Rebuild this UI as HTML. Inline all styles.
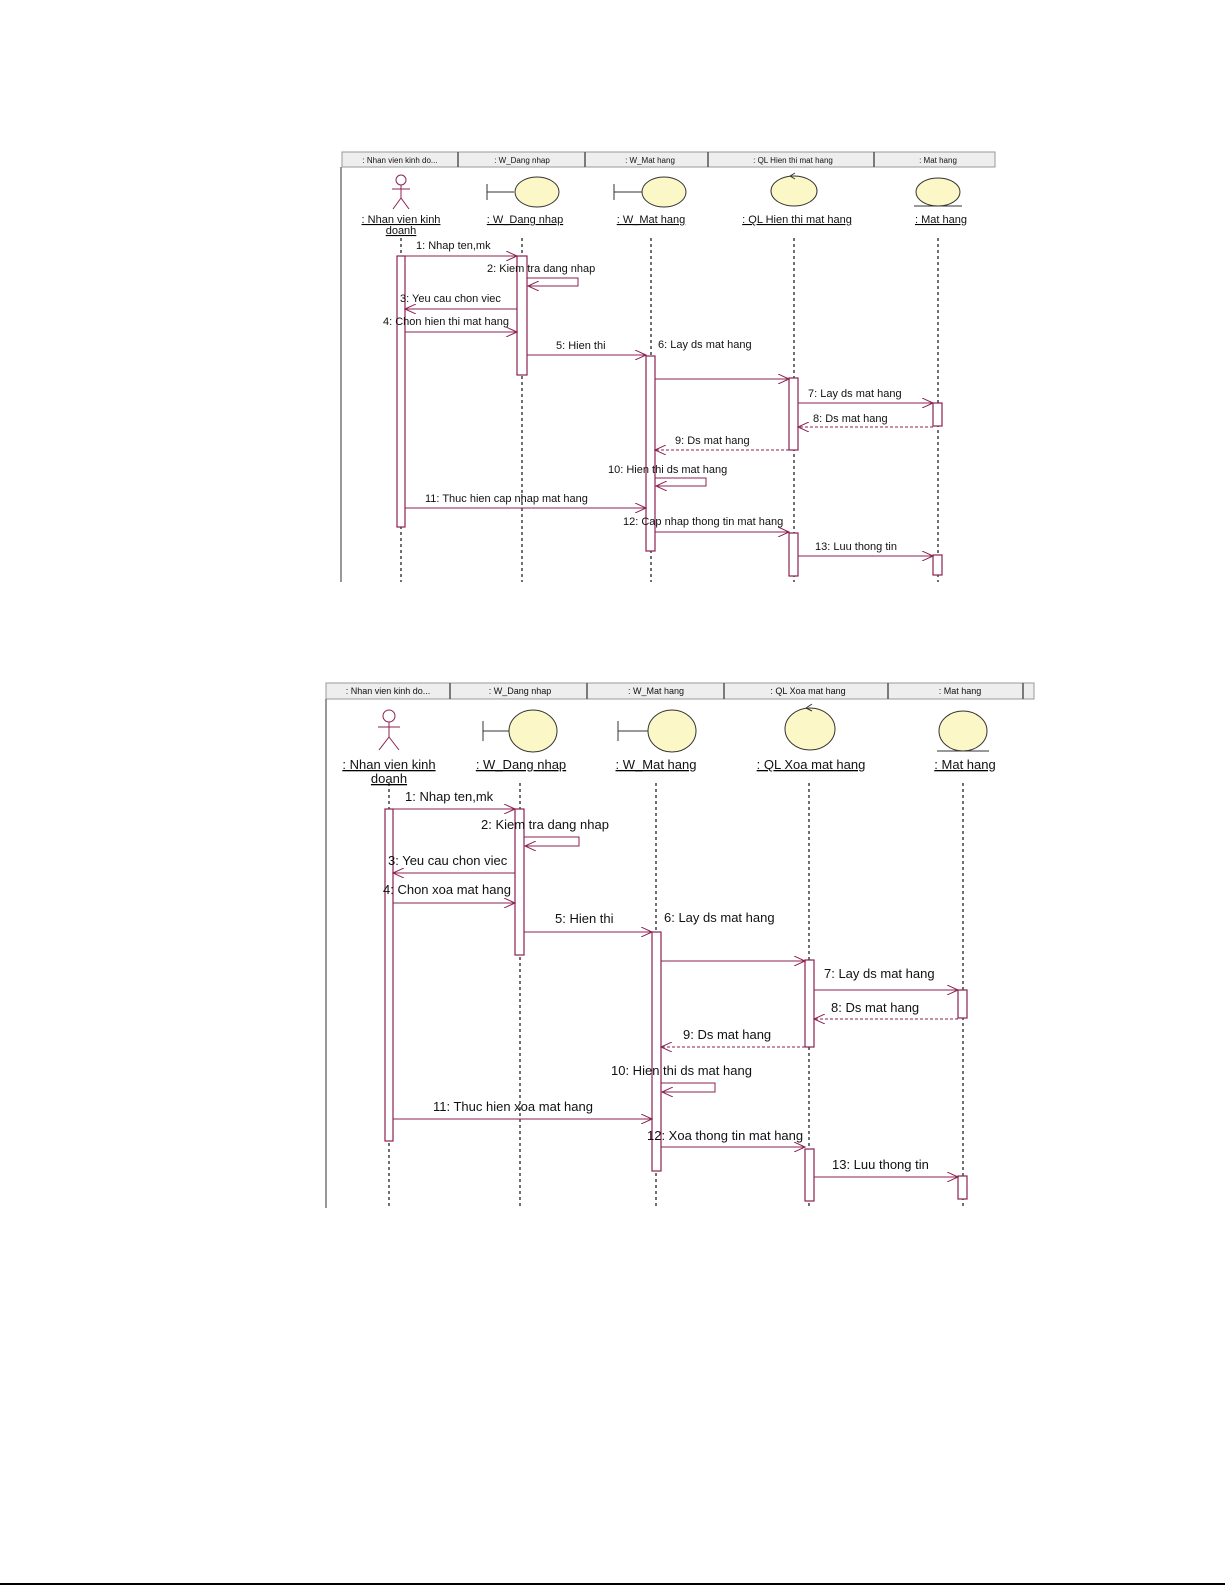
<!DOCTYPE html>
<html><head><meta charset="utf-8"><style>
html,body{margin:0;padding:0;background:#fff;}
svg{display:block;}
text{font-family:"Liberation Sans",sans-serif;fill:#111;}
</style></head><body>
<svg width="1225" height="1585" viewBox="0 0 1225 1585" xmlns="http://www.w3.org/2000/svg">
<defs>
<marker id="a" markerWidth="12" markerHeight="10" refX="11" refY="5" orient="auto" markerUnits="userSpaceOnUse">
<path d="M0,0 L11,5 L0,10" fill="none" stroke="#8b2252" stroke-width="1"/></marker>
</defs>

<!-- ============ DIAGRAM 1 ============ -->
<g>
<rect x="342" y="152" width="653" height="15" fill="#eeeeee" stroke="#999" stroke-width="1"/>
<g stroke="#555" stroke-width="1.5"><line x1="458" y1="152" x2="458" y2="167"/><line x1="585" y1="152" x2="585" y2="167"/><line x1="708" y1="152" x2="708" y2="167"/><line x1="874" y1="152" x2="874" y2="167"/></g>
<g font-size="8" text-anchor="middle"><text x="400" y="163">: Nhan vien kinh do...</text><text x="522" y="163">: W_Dang nhap</text><text x="650" y="163">: W_Mat hang</text><text x="793" y="163">: QL Hien thi mat hang</text><text x="938" y="163">: Mat hang</text></g>
<line x1="341" y1="167" x2="341" y2="582" stroke="#777" stroke-width="1.5"/>
<!-- lifelines -->
<g stroke="#111" stroke-width="1.2" stroke-dasharray="3,3"><line x1="401" y1="238" x2="401" y2="582"/><line x1="522" y1="238" x2="522" y2="582"/><line x1="651" y1="238" x2="651" y2="582"/><line x1="794" y1="238" x2="794" y2="582"/><line x1="938" y1="238" x2="938" y2="582"/></g>
<!-- icons -->
<g stroke="#8b2252" fill="none" stroke-width="1"><circle cx="401" cy="180" r="5"/><line x1="401" y1="185" x2="401" y2="198"/><line x1="392" y1="189" x2="410" y2="189"/><line x1="401" y1="198" x2="393" y2="209"/><line x1="401" y1="198" x2="409" y2="209"/></g>
<g stroke="#333" stroke-width="1" fill="#fbf7c6">
<line x1="487" y1="192" x2="514" y2="192"/><line x1="487" y1="184" x2="487" y2="200"/><ellipse cx="537" cy="192" rx="22" ry="15"/>
<line x1="614" y1="192" x2="642" y2="192"/><line x1="614" y1="184" x2="614" y2="200"/><ellipse cx="664" cy="192" rx="22" ry="15"/>
<ellipse cx="794" cy="191" rx="23" ry="15"/><path d="M790,176 l5,-3 M790,176 l5,3" fill="none"/>
<ellipse cx="938" cy="192" rx="22" ry="14"/><line x1="914" y1="206" x2="962" y2="206"/>
</g>
<g font-size="11" text-anchor="middle" text-decoration="underline"><text x="401" y="223">: Nhan vien kinh</text><text x="401" y="234">doanh</text><text x="525" y="223">: W_Dang nhap</text><text x="651" y="223">: W_Mat hang</text><text x="797" y="223">: QL Hien thi mat hang</text><text x="941" y="223">: Mat hang</text></g>
<!-- activations -->
<g stroke="#8b2252" fill="#fff" stroke-width="1.2"><rect x="397" y="256" width="8" height="271"/><rect x="517" y="256" width="10" height="119"/><rect x="646" y="356" width="9" height="195"/><rect x="789" y="378" width="9" height="72"/><rect x="789" y="533" width="9" height="43"/><rect x="933" y="403" width="9" height="23"/><rect x="933" y="555" width="9" height="20"/></g>
<!-- messages -->
<g stroke="#8b2252" stroke-width="1" fill="none" marker-end="url(#a)">
<line x1="405" y1="256" x2="517" y2="256"/>
<polyline points="527,278 578,278 578,286 528,286"/>
<line x1="517" y1="309" x2="405" y2="309"/>
<line x1="405" y1="332" x2="517" y2="332"/>
<line x1="527" y1="355" x2="646" y2="355"/>
<line x1="655" y1="379" x2="789" y2="379"/>
<line x1="798" y1="403" x2="933" y2="403"/>
<line x1="933" y1="427" x2="798" y2="427" stroke-dasharray="3,2"/>
<line x1="789" y1="450" x2="655" y2="450" stroke-dasharray="3,2"/>
<polyline points="655,478 706,478 706,486 656,486"/>
<line x1="405" y1="508" x2="646" y2="508"/>
<line x1="655" y1="532" x2="789" y2="532"/>
<line x1="798" y1="556" x2="933" y2="556"/>
</g>
<g font-size="11"><text x="416" y="249">1: Nhap ten,mk</text><text x="487" y="272">2: Kiem tra dang nhap</text><text x="400" y="302">3: Yeu cau chon viec</text><text x="383" y="325">4: Chon hien thi mat hang</text><text x="556" y="349">5: Hien thi</text><text x="658" y="348">6: Lay ds mat hang</text><text x="808" y="397">7: Lay ds mat hang</text><text x="813" y="422">8: Ds mat hang</text><text x="675" y="444">9: Ds mat hang</text><text x="608" y="473">10: Hien thi ds mat hang</text><text x="425" y="502">11: Thuc hien cap nhap mat hang</text><text x="623" y="525">12: Cap nhap thong tin mat hang</text><text x="815" y="550">13: Luu thong tin</text></g>
</g>

<!-- ============ DIAGRAM 2 ============ -->
<g>
<rect x="326" y="683" width="708" height="16" fill="#eeeeee" stroke="#999" stroke-width="1"/>
<g stroke="#555" stroke-width="1.5"><line x1="450" y1="683" x2="450" y2="699"/><line x1="587" y1="683" x2="587" y2="699"/><line x1="724" y1="683" x2="724" y2="699"/><line x1="888" y1="683" x2="888" y2="699"/><line x1="1023" y1="683" x2="1023" y2="699"/></g>
<g font-size="9" text-anchor="middle"><text x="388" y="694">: Nhan vien kinh do...</text><text x="520" y="694">: W_Dang nhap</text><text x="656" y="694">: W_Mat hang</text><text x="808" y="694">: QL Xoa mat hang</text><text x="960" y="694">: Mat hang</text></g>
<line x1="326" y1="699" x2="326" y2="1208" stroke="#777" stroke-width="1.5"/>
<g stroke="#111" stroke-width="1.2" stroke-dasharray="3,3"><line x1="389" y1="783" x2="389" y2="1208"/><line x1="520" y1="783" x2="520" y2="1208"/><line x1="656" y1="783" x2="656" y2="1208"/><line x1="809" y1="783" x2="809" y2="1208"/><line x1="963" y1="783" x2="963" y2="1208"/></g>
<g stroke="#8b2252" fill="none" stroke-width="1"><circle cx="389" cy="716" r="6"/><line x1="389" y1="722" x2="389" y2="737"/><line x1="378" y1="727" x2="400" y2="727"/><line x1="389" y1="737" x2="379" y2="750"/><line x1="389" y1="737" x2="399" y2="750"/></g>
<g stroke="#333" stroke-width="1" fill="#fbf7c6">
<line x1="483" y1="731" x2="510" y2="731"/><line x1="483" y1="721" x2="483" y2="741"/><ellipse cx="533" cy="731" rx="24" ry="21"/>
<line x1="618" y1="731" x2="648" y2="731"/><line x1="618" y1="721" x2="618" y2="741"/><ellipse cx="672" cy="731" rx="24" ry="21"/>
<ellipse cx="810" cy="729" rx="25" ry="21"/><path d="M806,708 l6,-4 M806,708 l6,3" fill="none"/>
<ellipse cx="963" cy="731" rx="24" ry="20"/><line x1="937" y1="751" x2="989" y2="751"/>
</g>
<g font-size="13" text-anchor="middle" text-decoration="underline"><text x="389" y="769">: Nhan vien kinh</text><text x="389" y="783">doanh</text><text x="521" y="769">: W_Dang nhap</text><text x="656" y="769">: W_Mat hang</text><text x="811" y="769">: QL Xoa mat hang</text><text x="965" y="769">: Mat hang</text></g>
<g stroke="#8b2252" fill="#fff" stroke-width="1.2"><rect x="385" y="809" width="8" height="332"/><rect x="515" y="809" width="9" height="146"/><rect x="652" y="932" width="9" height="239"/><rect x="805" y="960" width="9" height="87"/><rect x="805" y="1149" width="9" height="52"/><rect x="958" y="990" width="9" height="28"/><rect x="958" y="1176" width="9" height="23"/></g>
<g stroke="#8b2252" stroke-width="1" fill="none" marker-end="url(#a)">
<line x1="393" y1="809" x2="515" y2="809"/>
<polyline points="524,837 579,837 579,846 525,846"/>
<line x1="515" y1="873" x2="393" y2="873"/>
<line x1="393" y1="903" x2="515" y2="903"/>
<line x1="524" y1="932" x2="652" y2="932"/>
<line x1="661" y1="961" x2="805" y2="961"/>
<line x1="814" y1="990" x2="958" y2="990"/>
<line x1="958" y1="1019" x2="814" y2="1019" stroke-dasharray="3,2"/>
<line x1="805" y1="1047" x2="661" y2="1047" stroke-dasharray="3,2"/>
<polyline points="661,1083 715,1083 715,1092 662,1092"/>
<line x1="393" y1="1119" x2="652" y2="1119"/>
<line x1="661" y1="1147" x2="805" y2="1147"/>
<line x1="814" y1="1177" x2="958" y2="1177"/>
</g>
<g font-size="13"><text x="405" y="801">1: Nhap ten,mk</text><text x="481" y="829">2: Kiem tra dang nhap</text><text x="388" y="865">3: Yeu cau chon viec</text><text x="383" y="894">4: Chon xoa mat hang</text><text x="555" y="923">5: Hien thi</text><text x="664" y="922">6: Lay ds mat hang</text><text x="824" y="978">7: Lay ds mat hang</text><text x="831" y="1012">8: Ds mat hang</text><text x="683" y="1039">9: Ds mat hang</text><text x="611" y="1075">10: Hien thi ds mat hang</text><text x="433" y="1111">11: Thuc hien xoa mat hang</text><text x="647" y="1140">12: Xoa thong tin mat hang</text><text x="832" y="1169">13: Luu thong tin</text></g>
</g>

<line x1="0" y1="1584" x2="1225" y2="1584" stroke="#000" stroke-width="2"/>
</svg>
</body></html>
